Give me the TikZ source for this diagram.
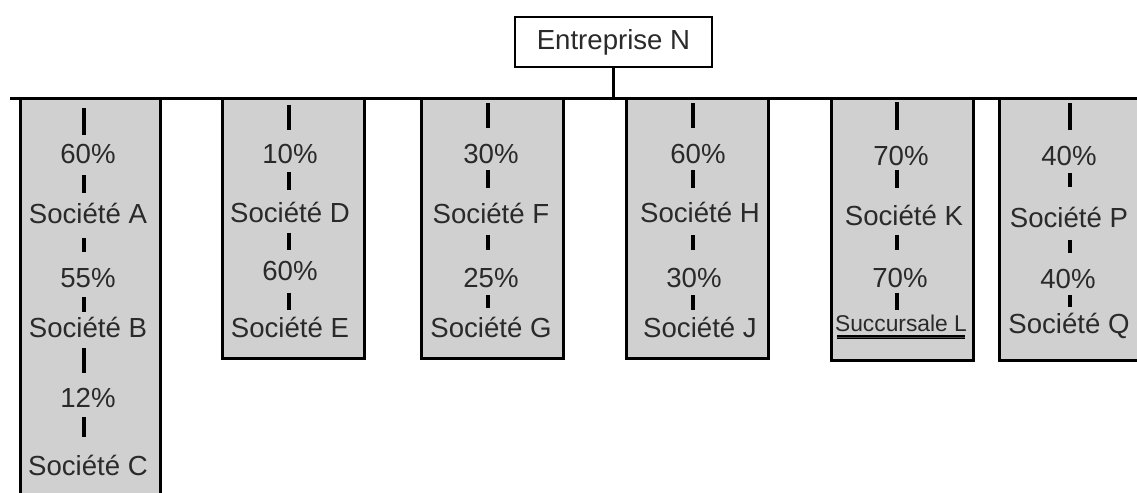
\documentclass[tikz,border=0pt]{standalone}
\usepackage{fontspec}
\setmainfont{Liberation Sans}
\definecolor{boxgray}{HTML}{D0D0D0}
\definecolor{txtgray}{HTML}{2A2A2A}
\begin{document}
\begin{tikzpicture}[x=0.5pt,y=-0.5pt,
  frame/.style={draw=black, line width=1.5pt},
  grp/.style={frame, fill=boxgray},
  lbl/.style={anchor=base, text=txtgray, inner sep=0pt, font=\fontsize{13.8}{16}\selectfont},
  smalllbl/.style={lbl, font=\fontsize{11.4}{13}\selectfont},
  tick/.style={draw=black, line width=1.8pt}]
\useasboundingbox (0,0) rectangle (1137,493);
\clip (0,0) rectangle (1137,493);

% shaded groups
\draw[grp] (20,98) rectangle (160,520);
\draw[grp] (222,98) rectangle (364,358);
\draw[grp] (421,98) rectangle (563,358);
\draw[grp] (626,98) rectangle (768,358);
\draw[grp] (831,98) rectangle (973,360);
\draw[grp] (999,98) rectangle (1160,360);

% parent company and main bar
\coordinate (barL) at (10,98);
\coordinate (barR) at (1150,98);
\draw[frame] (barL) -- (barR);
\node (top) [draw=black, line width=1.2pt, fill=white, minimum width=98.5pt, minimum height=25pt,
  text=txtgray, inner sep=0pt, font=\fontsize{13.8}{16}\selectfont] at (613.5,42) {Entreprise N};
\draw[frame] (top.south) -- (top.south |- barL);

% column A
\node[lbl] (pA) at (88,163) {60\%};
\node[lbl] (sA) at (88,223) {Société A};
\node[lbl] (pB) at (88,287) {55\%};
\node[lbl] (sB) at (88,337) {Société B};
\node[lbl] (pC) at (88,407) {12\%};
\node[lbl] (sC) at (88,475) {Société C};
\draw[tick] (84,108) -- (84,135);
\draw[tick] (84,175) -- (84,193);
\draw[tick] (84,238) -- (84,252);
\draw[tick] (84,297) -- (84,312);
\draw[tick] (84,348) -- (84,373);
\draw[tick] (84,417) -- (84,437);

% column D
\node[lbl] (pD) at (290,163) {10\%};
\node[lbl] (sD) at (290,222) {Société D};
\node[lbl] (pE) at (290,280) {60\%};
\node[lbl] (sE) at (290,337) {Société E};
\draw[tick] (289,105) -- (289,130);
\draw[tick] (289,172) -- (289,190);
\draw[tick] (289,233) -- (289,250);
\draw[tick] (289,293) -- (289,310);

% column F
\node[lbl] (pF) at (491,163) {30\%};
\node[lbl] (sF) at (491,223) {Société F};
\node[lbl] (pG) at (491,287) {25\%};
\node[lbl] (sG) at (491,337) {Société G};
\draw[tick] (488,103) -- (488,128);
\draw[tick] (488,170) -- (488,188);
\draw[tick] (488,235) -- (488,250);
\draw[tick] (488,295) -- (488,308);

% column H
\node[lbl] (pH) at (698,163) {60\%};
\node[lbl] (sH) at (700,222) {Société H};
\node[lbl] (pJ) at (694,287) {30\%};
\node[lbl] (sJ) at (700,337) {Société J};
\draw[tick] (693,103) -- (693,128);
\draw[tick] (693,170) -- (693,188);
\draw[tick] (693,235) -- (693,250);
\draw[tick] (693,295) -- (693,310);

% column K
\node[lbl] (pK) at (901,165) {70\%};
\node[lbl] (sK) at (904,225) {Société K};
\node[lbl] (pL) at (900,287) {70\%};
\node[smalllbl] (sL) at (901,331) {Succursale L};
\draw[tick] (897,102) -- (897,130);
\draw[tick] (897,170) -- (897,188);
\draw[tick] (897,235) -- (897,250);
\draw[tick] (897,293) -- (897,310);
\draw[draw=black, line width=0.9pt, double=black!70, double distance=0.5pt] (837,337) -- (965,337);

% column P
\node[lbl] (pP) at (1069,165) {40\%};
\node[lbl] (sP) at (1069,227) {Société P};
\node[lbl] (pQ) at (1068,288) {40\%};
\node[lbl] (sQ) at (1069,333) {Société Q};
\draw[tick] (1070,103) -- (1070,130);
\draw[tick] (1070,173) -- (1070,187);
\draw[tick] (1070,240) -- (1070,253);
\draw[tick] (1070,295) -- (1070,307);
\end{tikzpicture}
\end{document}
